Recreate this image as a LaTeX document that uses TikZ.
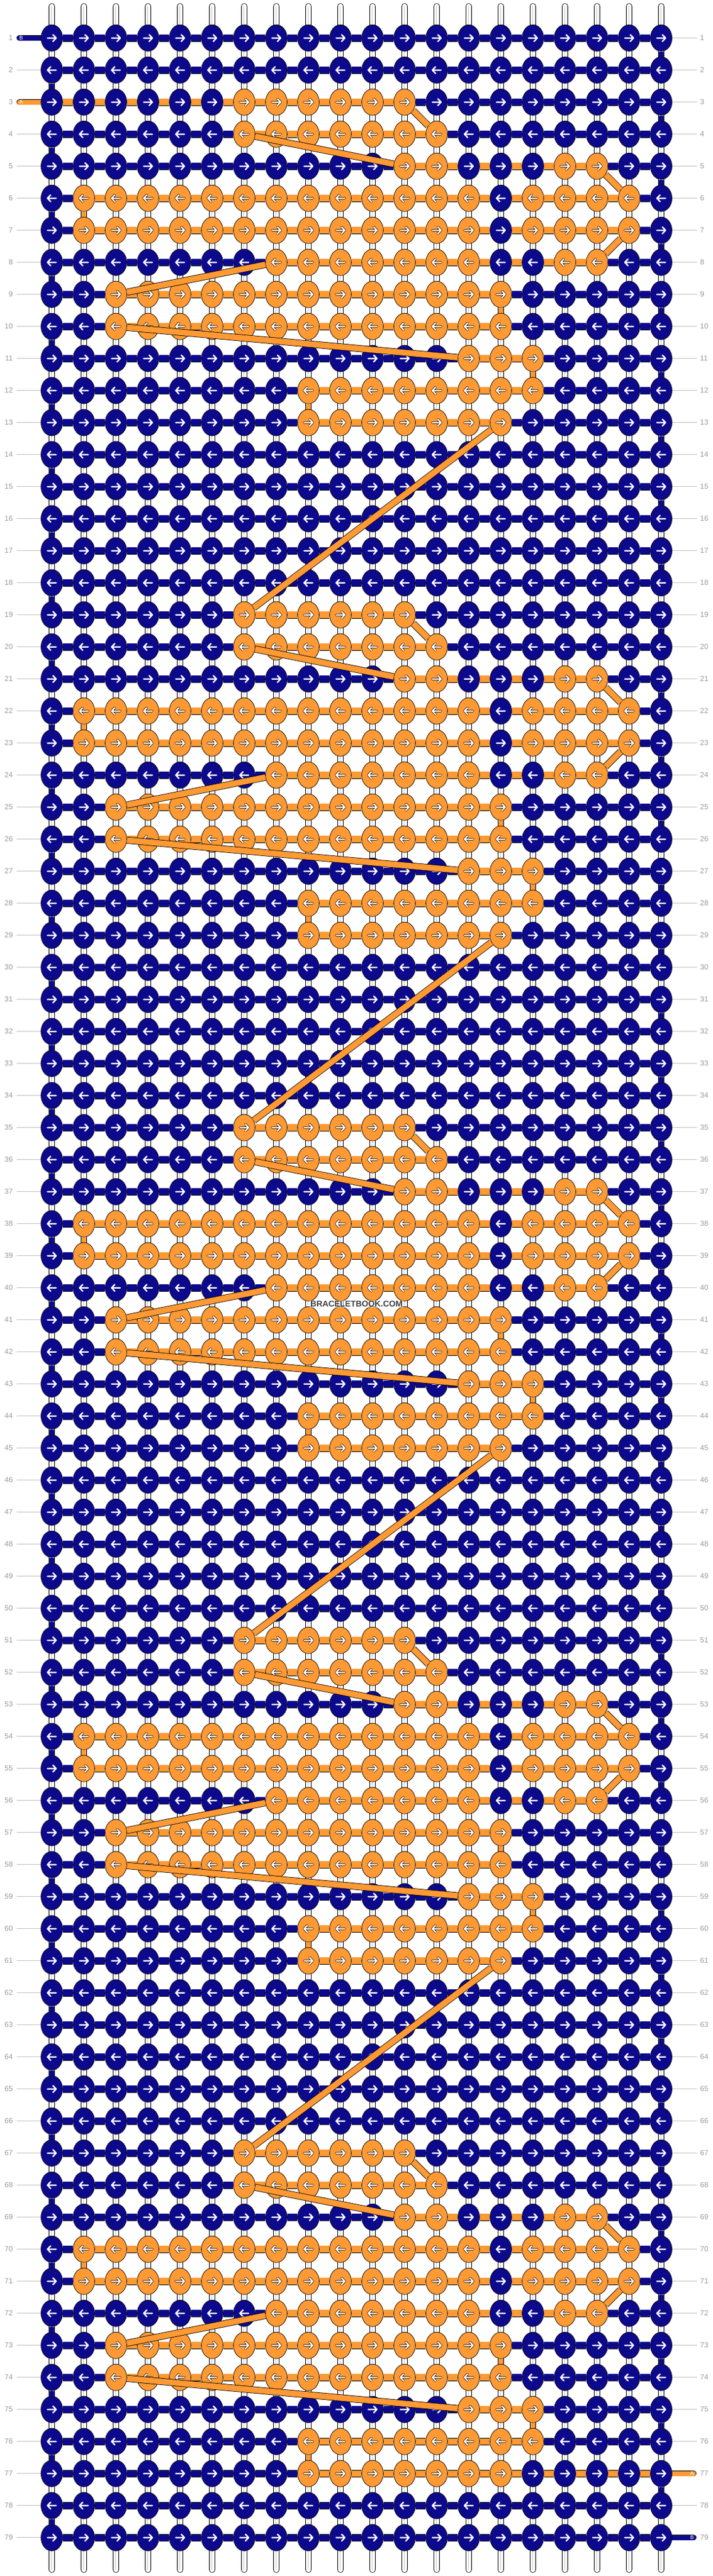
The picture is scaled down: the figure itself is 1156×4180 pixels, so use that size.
\documentclass[tikz,border=0pt]{standalone}
\usepackage{fontspec}
\setsansfont{Liberation Sans}
\usepackage{xcolor}
\usepackage{tikz}
\usetikzlibrary{shapes.geometric}
\definecolor{strandA}{RGB}{255,153,51}
\definecolor{strandB}{RGB}{13,9,140}
\definecolor{rowgray}{RGB}{155,155,155}
\pgfdeclarelayer{threads}
\pgfdeclarelayer{bars}
\pgfdeclarelayer{front}
\pgfsetlayers{threads,bars,main,front}
\tikzset{
  knotshape/.style={ellipse, minimum width=35pt, minimum height=43pt, inner sep=0pt, outer sep=0.35pt},
  barA/.style={draw=black, line width=0.8pt, double=strandA, double distance=10.5pt},
  barB/.style={draw=black, line width=0.8pt, double=strandB, double distance=10.5pt},
  turnA/.style={draw=black, line width=0.8pt, double=strandA, double distance=8.8pt},
  turnB/.style={draw=black, line width=0.8pt, double=strandB, double distance=8.8pt},
  diagA/.style={draw=black, line width=0.8pt, double=strandA, double distance=9.5pt},
  tailA/.style={draw=black, line width=0.8pt, double=strandA, double distance=7.8pt, line cap=round},
  tailB/.style={draw=black, line width=0.8pt, double=strandB, double distance=7.8pt, line cap=round},
  thread/.style={draw=black, line width=0.8pt, double=white, double distance=8.8pt, line cap=round},
  threadcore/.style={draw=gray!45, line width=0.9pt},
  rownum/.style={font=\sffamily\fontsize{12}{12}\selectfont, text=rowgray, inner sep=0pt},
  leader/.style={draw=rowgray!60, line width=0.8pt},
  taillabel/.style={font=\sffamily\fontsize{9}{9}\selectfont, text=white, inner sep=0pt},
  watermark/.style={font=\sffamily\bfseries\fontsize{13.5}{14}\selectfont, text=black!75,
    fill=white, fill opacity=0.45, text opacity=1, inner sep=1pt},
}
% motif rows: lowest and highest column of A, then knot colours
\newcommand{\setmotif}[4]{%
  \expandafter\def\csname lo#1\endcsname{#2}%
  \expandafter\def\csname hi#1\endcsname{#3}%
  \expandafter\def\csname motif#1\endcsname{#4}}
\setmotif{0}{7}{12}{B,B,B,B,B,B,A,A,A,A,A,A,B,B,B,B,B,B,B,B}
\setmotif{1}{7}{13}{B,B,B,B,B,B,A,A,A,A,A,A,A,B,B,B,B,B,B,B}
\setmotif{2}{12}{18}{B,B,B,B,B,B,B,B,B,B,B,A,A,B,B,B,A,A,B,B}
\setmotif{3}{2}{19}{B,A,A,A,A,A,A,A,A,A,A,A,A,A,B,A,A,A,A,B}
\setmotif{4}{2}{19}{B,A,A,A,A,A,A,A,A,A,A,A,A,A,B,A,A,A,A,B}
\setmotif{5}{8}{18}{B,B,B,B,B,B,B,A,A,A,A,A,A,A,B,B,A,A,B,B}
\setmotif{6}{3}{15}{B,B,A,A,A,A,A,A,A,A,A,A,A,A,A,B,B,B,B,B}
\setmotif{7}{3}{15}{B,B,A,A,A,A,A,A,A,A,A,A,A,A,A,B,B,B,B,B}
\setmotif{8}{14}{16}{B,B,B,B,B,B,B,B,B,B,B,B,B,A,A,A,B,B,B,B}
\setmotif{9}{9}{16}{B,B,B,B,B,B,B,B,A,A,A,A,A,A,A,A,B,B,B,B}
\setmotif{10}{9}{15}{B,B,B,B,B,B,B,B,A,A,A,A,A,A,A,B,B,B,B,B}
\setmotif{x}{99}{0}{B,B,B,B,B,B,B,B,B,B,B,B,B,B,B,B,B,B,B,B}

% knot faces, kept in boxes and reused
\newsavebox\knotAR \newsavebox\knotAL \newsavebox\knotBR \newsavebox\knotBL
\newcommand{\signpath}{%
  \pgfpathmoveto{\pgfpoint{-7pt}{0pt}}\pgfpathlineto{\pgfpoint{7pt}{0pt}}%
  \pgfpathmoveto{\pgfpoint{2pt}{5.3pt}}\pgfpathlineto{\pgfpoint{7pt}{0pt}}%
  \pgfpathlineto{\pgfpoint{2pt}{-5.3pt}}}
\newcommand{\makeknot}[4]{% box, colour, x scale, outlined sign
  \sbox#1{\begin{pgfpicture}
    \pgftransformxscale{#3}%
    \pgfsetlinewidth{0.7pt}\pgfsetstrokecolor{black}\pgfsetfillcolor{#2}%
    \pgfpathellipse{\pgfpointorigin}{\pgfpoint{17.5pt}{0pt}}{\pgfpoint{0pt}{21.5pt}}%
    \pgfusepath{fill,stroke}%
    \pgfsetroundcap\pgfsetroundjoin
    \ifnum#4=1
      \pgfsetlinewidth{3.7pt}\pgfsetstrokecolor{black}\signpath\pgfusepath{stroke}%
    \fi
    \pgfsetlinewidth{2.3pt}\pgfsetstrokecolor{white}\signpath\pgfusepath{stroke}%
    \pgfsetbaseline{0pt}%
  \end{pgfpicture}}}
\newcommand{\knotface}[2]{\smash{\makebox[0pt]{\usebox{\csname knot#1#2\endcsname}}}}

\begin{document}
\makeknot{\knotAR}{strandA}{1}{1}
\makeknot{\knotAL}{strandA}{-1}{1}
\makeknot{\knotBR}{strandB}{1}{0}
\makeknot{\knotBL}{strandB}{-1}{0}
\begin{tikzpicture}[x=1pt, y=-1pt]
  \useasboundingbox (0,0) rectangle (1156,4180);

  % Vertical threads
  \begin{pgfonlayer}{threads}
  \foreach \c in {1,...,20}{
    \pgfmathsetmacro\x{32+52*\c}
    \coordinate (top-\c) at (\x,10.4);
    \coordinate (end-\c) at (\x,4169.6);
    \draw[thread] (top-\c) -- (end-\c);
    \draw[threadcore] ([xshift=-1pt]top-\c) -- ([xshift=-1pt]end-\c);
  }
  \end{pgfonlayer}

  % Knot rows and horizontal carriers
  \foreach \r in {1,...,79}{
    \pgfmathtruncatemacro\m{(\r<3 || \r>77) ? 99 : mod(\r-3,16)}
    \ifnum\m>10 \def\m{x}\fi
    \edef\knots{\csname motif\m\endcsname}
    \edef\lo{\csname lo\m\endcsname}
    \edef\hi{\csname hi\m\endcsname}
    \ifnum\r=3 \def\lo{1}\fi
    \ifnum\r=77 \def\hi{20}\fi
    \ifodd\r \def\dir{R}\else \def\dir{L}\fi
    \pgfmathsetmacro\y{9.7+52*\r}
    \foreach \s [count=\c] in \knots {
      \pgfmathsetmacro\x{32+52*\c}
      \node[knotshape] (k-\r-\c) at (\x,\y) {\knotface{\s}{\dir}};
    }
    \begin{pgfonlayer}{bars}
    \foreach \c [evaluate=\c as \n using int(\c+1)] in {1,...,19}{
      \def\barstyle{barA}
      \ifnum\c<\lo\relax \def\barstyle{barB}\fi
      \ifnum\n>\hi\relax \def\barstyle{barB}\fi
      \draw[\barstyle] (k-\r-\c) -- (k-\r-\n);
    }
    \end{pgfonlayer}
    % row numbers
    \node[rownum, anchor=east] (num-l-\r) at (21,\y) {\r};
    \node[rownum, anchor=west] (num-r-\r) at (1135,\y) {\r};
    \ifnum\r=1 \else\ifnum\r=3 \else
      \coordinate (lead-l-\r) at (27,\y);
      \draw[leader] (lead-l-\r) -- (k-\r-1);
    \fi\fi
    \ifnum\r=77 \else\ifnum\r=79 \else
      \coordinate (lead-r-\r) at (1130,\y);
      \draw[leader] (k-\r-20) -- (lead-r-\r);
    \fi\fi
  }

  % B turns at the edges
  \begin{pgfonlayer}{bars}
  \foreach \r [evaluate=\r as \n using int(\r+1)] in {1,...,78}{
    \ifodd\r
      \draw[turnB] (k-\r-20) -- (k-\n-20);
    \else
      \draw[turnB] (k-\r-1) -- (k-\n-1);
    \fi
  }
  % A turns inside each motif
  \foreach \b in {3,19,35,51,67}{
    \draw[turnA] (k-\the\numexpr\b+3\relax-2) -- (k-\the\numexpr\b+4\relax-2);
    \draw[turnA] (k-\the\numexpr\b+6\relax-15) -- (k-\the\numexpr\b+7\relax-15);
    \draw[turnA] (k-\the\numexpr\b+8\relax-16) -- (k-\the\numexpr\b+9\relax-16);
    \draw[turnA] (k-\the\numexpr\b+9\relax-9) -- (k-\the\numexpr\b+10\relax-9);
  }
  % tails
  \coordinate (tail-B-in) at (31.5,61.7);
  \coordinate (tail-A-in) at (31.5,165.7);
  \coordinate (tail-A-out) at (1124.5,4013.7);
  \coordinate (tail-B-out) at (1124.5,4117.7);
  \draw[tailB] (tail-B-in) -- (k-1-1);
  \draw[tailA] (tail-A-in) -- (k-3-1);
  \draw[tailA] (k-77-20) -- (tail-A-out);
  \draw[tailB] (k-79-20) -- (tail-B-out);
  \end{pgfonlayer}
  \node[taillabel] (lab-B-in) at (34.5,61.7) {B};
  \node[taillabel] (lab-A-in) at (34.5,165.7) {A};
  \node[taillabel] (lab-A-out) at (1122,4013.7) {A};
  \node[taillabel] (lab-B-out) at (1122,4117.7) {B};

  % A jumps between rows
  \begin{pgfonlayer}{front}
  \foreach \b in {3,19,35,51,67}{
    \draw[diagA] (k-\b-12) -- (k-\the\numexpr\b+1\relax-13);
    \draw[diagA] (k-\the\numexpr\b+1\relax-7) -- (k-\the\numexpr\b+2\relax-12);
    \draw[diagA] (k-\the\numexpr\b+2\relax-18) -- (k-\the\numexpr\b+3\relax-19);
    \draw[diagA] (k-\the\numexpr\b+4\relax-19) -- (k-\the\numexpr\b+5\relax-18);
    \draw[diagA] (k-\the\numexpr\b+5\relax-8) -- (k-\the\numexpr\b+6\relax-3);
    \draw[diagA] (k-\the\numexpr\b+7\relax-3) -- (k-\the\numexpr\b+8\relax-14);
  }
  \foreach \b in {3,19,35,51}{
    \draw[diagA] (k-\the\numexpr\b+10\relax-15) -- (k-\the\numexpr\b+16\relax-7);
  }
  \node[watermark] (brand) at (578,2115.7) {BRACELETBOOK.COM};
  \end{pgfonlayer}
\end{tikzpicture}
\end{document}
